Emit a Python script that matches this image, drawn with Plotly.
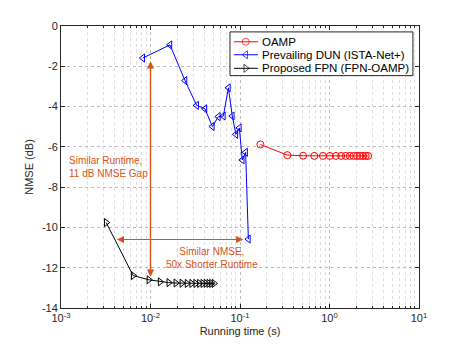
import math
import plotly.graph_objects as go

# Running time (s) and NMSE (dB) per iteration
oamp_time = [0.169, 0.338, 0.507, 0.676, 0.845, 1.01, 1.18, 1.35, 1.52, 1.69,
             1.86, 2.03, 2.20, 2.37, 2.54, 2.70]
oamp_nmse = [-5.88, -6.41, -6.44, -6.45, -6.45, -6.45, -6.45, -6.45, -6.45, -6.45,
             -6.45, -6.45, -6.45, -6.45, -6.45, -6.45]

dun_time = [0.0082, 0.0165, 0.0243, 0.0328, 0.0406, 0.0491, 0.0573, 0.0652,
            0.0742, 0.082, 0.090, 0.0984, 0.106, 0.1156, 0.124]
dun_nmse = [-1.59, -0.94, -2.71, -3.94, -4.11, -4.99, -4.50, -4.47,
            -3.07, -4.47, -5.38, -5.06, -6.65, -6.27, -10.58]

fpn_time = [0.0032, 0.0064, 0.0096, 0.0128, 0.016, 0.0192, 0.0224, 0.0256,
            0.0288, 0.032, 0.0352, 0.0384, 0.0416, 0.0448, 0.048, 0.0512]
fpn_nmse = [-9.76, -12.39, -12.60, -12.70, -12.74, -12.76, -12.77, -12.78,
            -12.78, -12.78, -12.78, -12.78, -12.78, -12.78, -12.78, -12.78]

names = ['OAMP', 'Prevailing DUN (ISTA-Net+)', 'Proposed FPN (FPN-OAMP)']
colors = ['#FF0000', '#0000FF', '#000000']
symbols = ['circle-open', 'triangle-left-open', 'triangle-right-open']

x_tickvals = [0.001, 0.01, 0.1, 1, 10]
x_ticktext = ['10<sup>-3</sup>', '10<sup>-2</sup>', '10<sup>-1</sup>', '10<sup>0</sup>', '10<sup>1</sup>']
y_tickvals = [0, -2, -4, -6, -8, -10, -12, -14]
y_ticktext = ['0', '-2', '-4', '-6', '-8', '-10', '-12', '-14']

orange = '#D95319'
font = 'Liberation Sans, Arial, sans-serif'

fig = go.Figure()
for t, v, name, c, s in zip([oamp_time, dun_time, fpn_time], [oamp_nmse, dun_nmse, fpn_nmse],
                            names, colors, symbols):
    fig.add_trace(go.Scatter(x=t, y=v, name=name, mode='lines+markers', showlegend=False,
                             line=dict(color=c, width=1),
                             marker=dict(symbol=s, size=7, color=c, line=dict(width=1))))

# double-headed arrows (two annotations pointing outwards)
def double_arrow(x0, y0, x1, y1):
    for (ax, ay, x, y) in [(x0, y0, x1, y1), (x1, y1, x0, y0)]:
        fig.add_annotation(x=math.log10(x), y=y, ax=math.log10(ax), ay=ay,
                           xref='x', yref='y', axref='x', ayref='y',
                           showarrow=True, arrowhead=2, arrowsize=1.2, arrowwidth=1.2,
                           arrowcolor=orange, text='', standoff=0)

double_arrow(0.01, -1.75, 0.01, -12.45)
double_arrow(0.0042, -10.6, 0.109, -10.6)

fig.add_annotation(x=math.log10(0.00117), y=-7.0, xref='x', yref='y', showarrow=False,
                   text='Similar Runtime,<br>11 dB NMSE Gap', align='left', xanchor='left',
                   font=dict(family=font, size=10, color=orange))
fig.add_annotation(x=math.log10(0.049), y=-11.5, xref='x', yref='y', showarrow=False,
                   text='Similar NMSE,<br>50x Shorter Runtime', align='center',
                   font=dict(family=font, size=10, color=orange))

# compact MATLAB-style legend drawn on a hidden 0..1 overlay axis
lx0, lx1, ly0, ly1 = 0.472, 0.983, 0.824, 0.979
row_y = [0.944, 0.898, 0.850]
fig.add_trace(go.Scatter(x=[lx0, lx1, lx1, lx0, lx0], y=[ly0, ly0, ly1, ly1, ly0],
                         xaxis='x2', yaxis='y2', mode='lines', fill='toself',
                         fillcolor='white', line=dict(color='#262626', width=1),
                         showlegend=False, hoverinfo='skip'))
for ry, name, c, s in zip(row_y, names, colors, symbols):
    fig.add_trace(go.Scatter(x=[0.483, 0.516, 0.55], y=[ry, ry, ry], xaxis='x2', yaxis='y2',
                             mode='lines+markers', showlegend=False, hoverinfo='skip',
                             line=dict(color=c, width=1),
                             marker=dict(symbol=s, size=[0, 7, 0], color=c, line=dict(width=1))))
    fig.add_annotation(x=0.557, y=ry, xref='x2', yref='y2', text=name, showarrow=False,
                       xanchor='left', font=dict(family=font, size=11.5, color='#000000'))

axis_common = dict(showline=True, linecolor='#262626', linewidth=1, mirror='ticks',
                   ticks='inside', ticklen=4, tickcolor='#262626', zeroline=False,
                   showgrid=True, gridcolor='#BDBDBD', griddash='dot', gridwidth=1,
                   tickfont=dict(family=font, size=11, color='#262626'),
                   title_font=dict(family=font, size=11, color='#262626'))

fig.update_xaxes(type='log', range=[-3, 1], tickvals=x_tickvals, ticktext=x_ticktext,
                 title_text='Running time (s)', title_standoff=4,
                 minor=dict(dtick='D1', showgrid=True, gridcolor='#DDDDDD', griddash='dot',
                            ticks='inside', ticklen=2, tickcolor='#262626'),
                 **axis_common)
fig.update_yaxes(range=[-14, 0], tickvals=y_tickvals, ticktext=y_ticktext,
                 title_text='NMSE (dB)', title_standoff=6, **axis_common)

# page body has an 8px default margin on the top/left, so the figure is shrunk by that amount
fig.update_layout(width=455, height=340, margin=dict(l=53, r=44, t=18, b=38),
                  plot_bgcolor='white', paper_bgcolor='white',
                  font=dict(family=font, size=11, color='#262626'),
                  xaxis2=dict(overlaying='x', range=[0, 1], visible=False, fixedrange=True),
                  yaxis2=dict(overlaying='y', range=[0, 1], visible=False, fixedrange=True))

fig.write_html('out.html')
